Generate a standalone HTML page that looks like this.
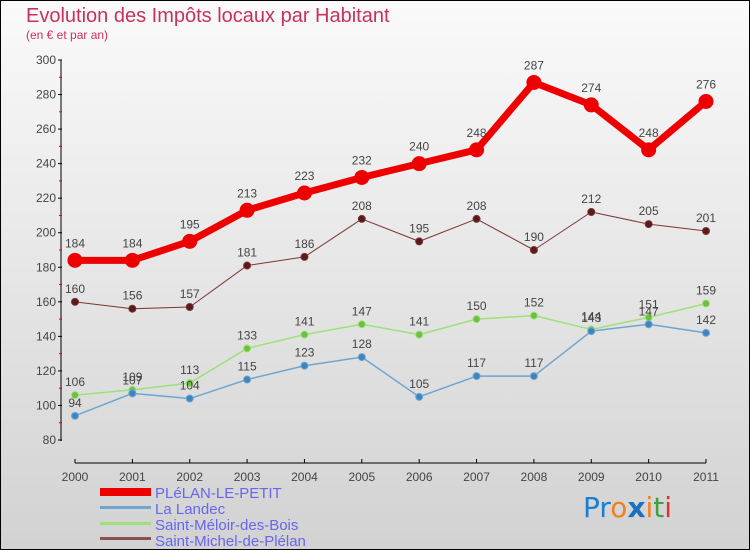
<!DOCTYPE html>
<html><head><meta charset="utf-8"><style>
body{margin:0;width:750px;height:550px;overflow:hidden;font-family:"Liberation Sans",sans-serif}
svg{display:block}
</style></head><body>
<svg id="c" width="750" height="550" xmlns="http://www.w3.org/2000/svg">
<defs><linearGradient id="bg" x1="0" y1="0" x2="0" y2="1"><stop offset="0" stop-color="#fafafa"/><stop offset="1" stop-color="#d2d2d2"/></linearGradient></defs>
<rect x="0.5" y="0.5" width="749" height="549" fill="url(#bg)" stroke="#000"/>
<text x="26" y="22" font-size="20" fill="#c8325a">Evolution des Impôts locaux par Habitant</text>
<text x="26" y="39" font-size="12" fill="#c8325a">(en € et par an)</text>
<g id="axes"></g><g id="series"></g>
<g font-size="15" fill="#6666ee">
<rect x="100" y="488" width="51" height="8" fill="#e00"/>
<text x="155" y="498">PLéLAN-LE-PETIT</text>
<rect x="100" y="506" width="51" height="3" fill="#6fa5d0"/>
<text x="155" y="514">La Landec</text>
<rect x="100" y="522" width="51" height="3" fill="#9ee07a"/>
<text x="155" y="530">Saint-Méloir-des-Bois</text>
<rect x="100" y="537" width="51" height="3" fill="#8a5050"/>
<text x="155" y="546">Saint-Michel-de-Plélan</text>
</g>
<text x="583" y="517" font-size="28" font-family="DejaVu Sans"><tspan fill="#1a7fd0">Pr</tspan><tspan fill="#f08020">o</tspan><tspan fill="#1a6fc0" font-weight="bold">x</tspan><tspan fill="#f08020">i</tspan><tspan fill="#40a040">t</tspan><tspan fill="#e03030">i</tspan></text>
</svg>
<script>
const years=["2000","2001","2002","2003","2004","2005","2006","2007","2008","2009","2010","2011"];
const yTicks=[80,100,120,140,160,180,200,220,240,260,280,300];
const plelan=[184,184,195,213,223,232,240,248,287,274,248,276];
const landec=[94,107,104,115,123,128,105,117,117,143,147,142];
const meloir=[106,109,113,133,141,147,141,150,152,144,151,159];
const michel=[160,156,157,181,186,208,195,208,190,212,205,201];
const NS="http://www.w3.org/2000/svg";
const x=i=>75+i*(706-75)/11;
const y=v=>440-(v-80)*(380/220);
function mk(p,tag,at){const e=document.createElementNS(NS,tag);for(const k in at)e.setAttribute(k,at[k]);p.appendChild(e);return e;}
const ax=document.getElementById('axes');
let e=mk(ax,'line',{x1:61,y1:60,x2:61,y2:441,stroke:'#000'});


e=mk(ax,'line',{x1:75,y1:463,x2:706,y2:463,stroke:'#000'});


yTicks.forEach((t,i)=>{
 mk(ax,'line',{x1:58,y1:y(t),x2:62,y2:y(t),stroke:'#000'});
 if(i<yTicks.length-1) mk(ax,'line',{x1:59,y1:y(t+10),x2:62,y2:y(t+10),stroke:'#d00'});
 const tx=mk(ax,'text',{x:56,y:y(t)+4,'font-size':12,fill:'#444','text-anchor':'end'});tx.textContent=t;
 
 
});
years.forEach((yr,i)=>{
 mk(ax,'line',{x1:x(i),y1:459,x2:x(i),y2:463,stroke:'#000'});
 const tx=mk(ax,'text',{x:x(i),y:481,'font-size':12,fill:'#444','text-anchor':'middle'});tx.textContent=yr;
 
 
});
const sg=document.getElementById('series');
function draw(data,name,color,dot,w,r,lblOff){
 const g=mk(sg,'g',{});
 
 
 mk(g,'polyline',{points:data.map((v,i)=>x(i)+','+y(v)).join(' '),fill:'none',stroke:color,'stroke-width':w,'stroke-linejoin':'round'});
 data.forEach((v,i)=>{
  const c=mk(g,'circle',{cx:x(i),cy:y(v),r:r,fill:dot,stroke:color,'stroke-width':1});
  
  
  const t=mk(g,'text',{x:x(i),y:y(v)-lblOff,'font-size':12,fill:'#444','text-anchor':'middle'});t.textContent=v;
  
  
 });
}
draw(michel,'michel','#7a3535','#5a1a1a',1,3.5,9);
draw(meloir,'meloir','#9ee07a','#6cc040',1.5,3.5,9);
draw(landec,'landec','#6fa5d0','#3d85c0',1.5,3.5,9);
draw(plelan,'plelan','#e00','#e00',7,7,13);
</script>
</body></html>
